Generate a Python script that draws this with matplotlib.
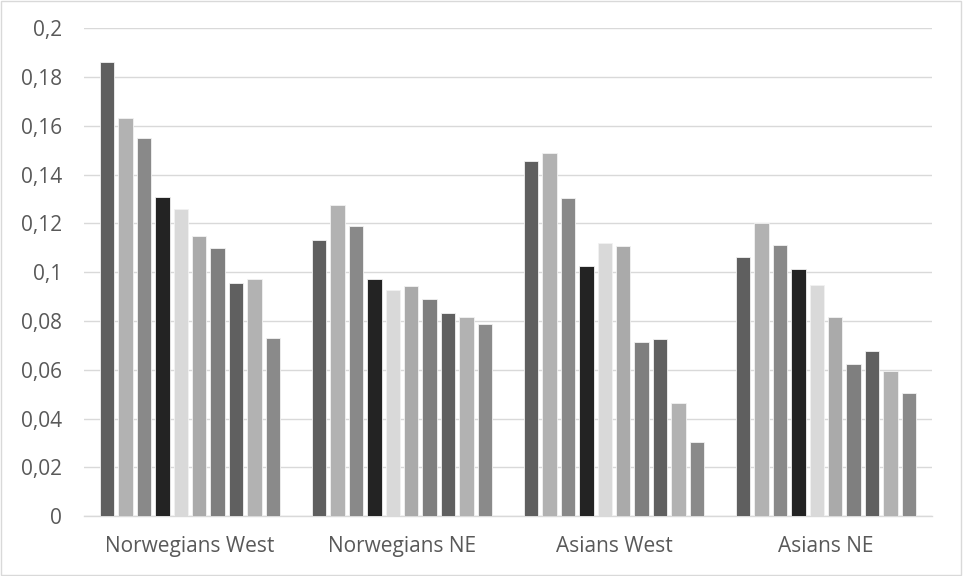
import matplotlib
matplotlib.use("Agg")
import matplotlib.pyplot as plt
import numpy as np
from matplotlib.patches import Rectangle

groups = ["Norwegians West", "Norwegians NE", "Asians West", "Asians NE"]

# one list per series (10 series, grayscale in the original)
s1 = [0.186, 0.113, 0.1454, 0.1064]
s2 = [0.163, 0.1275, 0.149, 0.120]
s3 = [0.155, 0.1189, 0.1303, 0.1113]
s4 = [0.131, 0.0971, 0.1027, 0.1012]
s5 = [0.1258, 0.0925, 0.112, 0.0947]
s6 = [0.115, 0.0944, 0.1107, 0.0817]
s7 = [0.1098, 0.0889, 0.0712, 0.0624]
s8 = [0.0955, 0.0832, 0.0724, 0.0678]
s9 = [0.0971, 0.0817, 0.0462, 0.0596]
s10 = [0.0731, 0.0786, 0.0303, 0.0504]
series = [s1, s2, s3, s4, s5, s6, s7, s8, s9, s10]

colors = ["#5f5f5f", "#b2b2b2", "#898989", "#232323", "#d9d9d9",
          "#aaaaaa", "#7f7f7f", "#606060", "#b2b2b2", "#8a8a8a"]

yticks = [0, 0.02, 0.04, 0.06, 0.08, 0.1, 0.12, 0.14, 0.16, 0.18, 0.2]
ytick_labels = ["0", "0,02", "0,04", "0,06", "0,08", "0,1",
                "0,12", "0,14", "0,16", "0,18", "0,2"]

plt.rcParams['font.family'] = ['Open Sans', 'DejaVu Sans']

fig = plt.figure(figsize=(9.63, 5.76), dpi=100)
ax = fig.add_axes([0.0872, 0.104, 0.8806, 0.847])

x = np.arange(len(groups))
slot = 0.0868
width = 0.068
n = len(series)
for i, vals in enumerate(series):
    offs = (i - (n - 1) / 2) * slot
    ax.bar(x + offs, vals, width=width, color=colors[i],
           edgecolor="#f2f2f2", linewidth=0.6, zorder=3)

ax.set_xlim(-0.5, len(groups) - 0.5)
ax.set_ylim(0, 0.2)
ax.set_yticks(yticks)
ax.set_yticklabels(ytick_labels)
ax.set_xticks(x)
ax.set_xticklabels(groups)

ax.grid(axis="y", color="#d9d9d9", linewidth=1.0, zorder=0)
for side in ["top", "right", "left"]:
    ax.spines[side].set_visible(False)
ax.spines["bottom"].set_color("#d9d9d9")
ax.spines["bottom"].set_linewidth(1.0)
ax.tick_params(axis="both", length=0, labelsize=15, colors="#595959")
ax.tick_params(axis="y", pad=16)
ax.tick_params(axis="x", pad=14)

# light border round the whole chart
fig.patches.append(Rectangle((0.001, 0.002), 0.997, 0.996, transform=fig.transFigure,
                             fill=False, edgecolor="#d9d9d9", linewidth=1.0))

fig.savefig("out.png", dpi=100)
